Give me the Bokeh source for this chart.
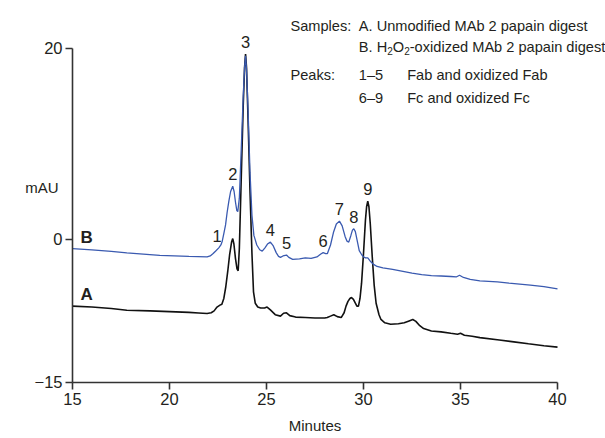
from bokeh.plotting import figure
from bokeh.models import Range1d, FixedTicker, Label
from bokeh.core.properties import value
from bokeh.embed import file_html
from bokeh.resources import INLINE

# ---- data ----
# Trace A: unmodified MAb 2 papain digest (black)
a_t = [15.0, 16.0, 17.0, 17.8, 19.0, 20.0, 21.0, 21.5, 21.94, 22.15, 22.3, 22.45, 22.6, 22.7,
       22.8, 22.9, 23.0, 23.1, 23.2, 23.26, 23.32, 23.4, 23.48, 23.54, 23.6, 23.7, 23.8,
       23.87, 23.92, 23.97, 24.05, 24.15, 24.25, 24.33, 24.42, 24.55, 24.7, 24.9, 25.03,
       25.2, 25.45, 25.72, 25.88, 26.03, 26.2, 26.5, 27.0, 27.5, 28.0, 28.13, 28.3, 28.47,
       28.65, 28.85, 29.0, 29.1, 29.2, 29.3, 29.38, 29.48, 29.58, 29.66, 29.74, 29.82, 29.9,
       30.0, 30.1, 30.16, 30.22, 30.28, 30.35, 30.45, 30.55, 30.65, 30.8, 30.9, 31.1, 31.4,
       31.8, 32.1, 32.35, 32.54, 32.7, 32.9, 33.1, 33.5, 34.0, 34.5, 34.85, 35.0, 35.2, 35.6,
       36.0, 37.0, 37.75, 38.5, 39.3, 40.0]
a_v = [-7.0, -7.1, -7.25, -7.43, -7.5, -7.58, -7.66, -7.72, -7.78, -7.7, -7.5, -7.1, -6.9, -6.8,
       -6.2, -5.0, -3.4, -1.6, -0.3, 0.07, -0.5, -2.0, -3.1, -3.3, -1.0, 6.5, 14.0,
       18.0, 19.4, 18.0, 12.5, 5.0, -1.5, -5.5, -6.7, -7.1, -7.2, -7.2, -7.1,
       -7.4, -7.9, -8.05, -7.75, -7.7, -8.0, -8.15, -8.2, -8.25, -8.25, -8.2, -8.05, -7.9,
       -8.1, -8.2, -7.7, -7.0, -6.5, -6.2, -6.1, -6.3, -6.7, -7.0, -7.0, -6.2, -4.6,
       -1.5, 2.0, 3.4, 4.0, 3.4, 1.6, -1.8, -4.8, -6.7, -7.9, -8.4, -8.75, -8.9,
       -8.85, -8.75, -8.55, -8.4, -8.6, -9.05, -9.35, -9.6, -9.7, -9.85, -9.95, -9.85, -10.05, -10.15,
       -10.3, -10.55, -10.75, -10.95, -11.15, -11.3]

# Trace B: H2O2-oxidized MAb 2 papain digest (blue)
b_t = [15.0, 16.0, 17.0, 17.8, 19.5, 21.0, 21.94, 22.1, 22.25, 22.37, 22.54, 22.65, 22.72,
       22.8, 22.89, 22.97, 23.06, 23.15, 23.26, 23.33, 23.4, 23.47, 23.52, 23.6, 23.7, 23.8,
       23.87, 23.92, 23.97, 24.05, 24.15, 24.25, 24.35, 24.5, 24.65, 24.78, 24.92, 25.05,
       25.2, 25.35, 25.5, 25.62, 25.72, 25.85, 26.03, 26.15, 26.35, 26.7, 27.0, 27.3, 27.6,
       27.8, 27.92, 28.05, 28.14, 28.3, 28.45, 28.6, 28.76, 28.9, 29.05, 29.15, 29.24, 29.35,
       29.43, 29.5, 29.58, 29.68, 29.78, 29.9, 30.0, 30.1, 30.22, 30.35, 30.5, 30.7, 31.0,
       31.5, 31.9, 32.5, 33.0, 33.5, 34.0, 34.5, 34.78, 34.95, 35.15, 35.5, 36.0, 36.9, 37.5,
       38.6, 39.3, 40.0]
b_v = [-0.98, -1.12, -1.28, -1.43, -1.68, -1.8, -1.85, -1.75, -1.5, -1.26, -0.9, -0.6, -0.2,
       0.6, 1.5, 2.8, 4.0, 5.0, 5.55, 5.0, 3.9, 3.0, 2.9, 4.3, 9.5, 15.0,
       18.0, 19.2, 17.8, 13.5, 7.0, 2.5, 0.4, -0.6, -1.1, -1.25, -0.9, -0.5,
       -0.3, -0.7, -1.4, -1.8, -1.9, -1.75, -1.65, -1.9, -2.1, -2.05, -1.95, -2.0, -1.85,
       -1.55, -1.4, -1.5, -1.5, -0.6, 0.7, 1.6, 1.9, 1.4, 0.3, -0.2, -0.3, 0.4,
       0.95, 1.1, 0.8, -0.2, -1.2, -1.6, -1.85, -1.95, -1.95, -2.3, -2.6, -2.85, -3.0,
       -3.15, -3.3, -3.55, -3.7, -3.8, -3.85, -3.9, -3.95, -3.77, -4.0, -4.2, -4.35, -4.47, -4.6,
       -4.8, -4.95, -5.2]

# Peak annotations (apex time, apex height)
peak_names = ["1", "2", "3", "4", "5", "6", "7", "8", "9"]
peak_t = [22.45, 23.26, 23.92, 25.2, 26.03, 27.92, 28.76, 29.5, 30.22]
peak_v = [-0.9, 5.55, 19.4, -0.3, -1.65, -1.4, 1.9, 1.1, 4.0]

x_ticks = [15, 20, 25, 30, 35, 40]
y_ticks = [-15, 0, 20]

sample_a = "A. Unmodified MAb 2 papain digest"
sample_b_parts = ["B. H", "2", "O", "2", "-oxidized MAb 2 papain digest"]
peak_groups = ["1\u20135", "6\u20139"]
peak_groups_desc = ["Fab and oxidized Fab", "Fc and oxidized Fc"]

FONT = "Liberation Sans"
TXT = "#231f20"
FS = "15px"
LFS = 14.6  # legend font size in px

X0, X1 = 15, 40
Y0, Y1 = -15, 20

p = figure(width=605, height=438, output_backend="svg", toolbar_location=None,
           x_range=Range1d(11.289, 42.474), y_range=Range1d(-20.864, 25.0),
           min_border_left=0, min_border_right=0, min_border_top=0, min_border_bottom=0)
p.outline_line_color = None
p.grid.visible = False
p.background_fill_color = "white"
p.border_fill_color = "white"

p.line(a_t, a_v, line_color="#111111", line_width=1.6)
p.line(b_t, b_v, line_color="#3a5ab0", line_width=1.3)

p.text(x=peak_t, y=peak_v, text=peak_names, text_align="center", text_baseline="middle",
       y_offset=-12, text_font=value(FONT), text_font_size="16.5px", text_color=TXT)

# axes drawn at fixed data locations
for ax in (p.xaxis[0], p.yaxis[0]):
    ax.axis_line_color = "#333333"
    ax.axis_line_width = 1.6
    ax.major_tick_line_color = "#333333"
    ax.major_tick_line_width = 1.6
    ax.major_tick_out = 7
    ax.major_tick_in = 0
    ax.minor_tick_line_color = None
    ax.major_label_text_font = FONT
    ax.major_label_text_font_size = "16.5px"
    ax.major_label_text_color = TXT

p.xaxis.ticker = FixedTicker(ticks=x_ticks)
p.xaxis.bounds = (X0, X1)
p.xaxis.fixed_location = Y0
p.xaxis.major_label_standoff = 4

p.yaxis.ticker = FixedTicker(ticks=y_ticks)
p.yaxis.bounds = (Y0, Y1)
p.yaxis.fixed_location = X0
p.yaxis.major_label_overrides = {-15: "\u221215"}
p.yaxis.major_label_standoff = 3

def lab(x, y, text, size=FS, baseline="alphabetic", **kw):
    p.add_layout(Label(x=x, y=y, text=text, text_font=FONT, text_font_size=size,
                       text_color=TXT, text_baseline=baseline, **kw))

lab((X0 + X1) / 2, Y0, "Minutes", y_offset=-43, text_align="center", baseline="middle")
lab(X0, 5.42, "mAU", x_offset=-14, text_align="right", baseline="middle")
lab(X0, 0.18, "B", x_offset=8, text_align="left", baseline="middle", text_font_style="bold", size="17px")
lab(X0, -5.79, "A", x_offset=8, text_align="left", baseline="middle", text_font_style="bold", size="17px")

LS = f"{LFS}px"
col1, col2, col3 = 26.237, 29.758, 32.253
lab(col1, 22.38, "Samples:", size=LS)
lab(col2, 22.38, sample_a, size=LS)
# row B with true subscripts
em = LFS
offs = [0, 1.945 * em, 1.945 * em + 5.6, 1.945 * em + 5.6 + 0.778 * em, 1.945 * em + 11.2 + 0.778 * em]
for part, dx in zip(sample_b_parts, offs):
    sub = part == "2"
    lab(col2, 20.08, part, size="10px" if sub else LS, x_offset=dx, y_offset=-4 if sub else 0)
lab(col1, 17.15, "Peaks:", size=LS)
lab(col2, 17.15, peak_groups[0], size=LS)
lab(col3, 17.15, peak_groups_desc[0], size=LS)
lab(col2, 14.74, peak_groups[1], size=LS)
lab(col3, 14.74, peak_groups_desc[1], size=LS)

open("out.html", "w").write(file_html(p, INLINE))
